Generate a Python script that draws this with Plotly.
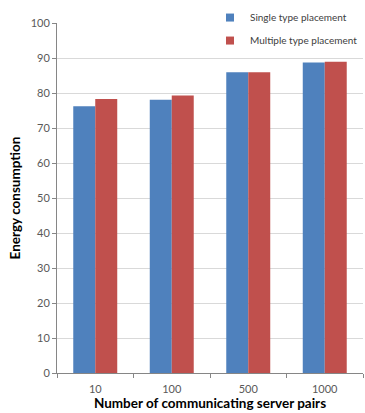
import plotly.graph_objects as go

categories = ["10", "100", "500", "1000"]
single_type = [76.2, 78.1, 85.9, 88.7]
multiple_type = [78.3, 79.3, 85.9, 88.9]
y_ticks = [0, 10, 20, 30, 40, 50, 60, 70, 80, 90, 100]
series_names = ["Single type placement", "Multiple type placement"]
series_colors = ["#4F81BD", "#C0504D"]

fig = go.Figure()
for name, vals, col in zip(series_names, [single_type, multiple_type], series_colors):
    fig.add_trace(go.Bar(x=categories, y=vals, name=name, showlegend=False,
                         marker=dict(color=col, line=dict(width=0))))
for i, (name, col) in enumerate(zip(series_names, series_colors)):
    fig.add_trace(go.Scatter(x=[None], y=[None], mode="markers", name=name,
                             legendgroup=str(i),
                             marker=dict(symbol="square", size=8, color=col)))

fig.update_layout(
    width=365, height=413,
    margin=dict(l=57, r=2, t=23, b=40, autoexpand=False),
    paper_bgcolor="white", plot_bgcolor="white",
    barmode="group", bargap=0.425, bargroupgap=0,
    font=dict(family="Lato, Liberation Sans, sans-serif", color="#595959", size=11),
    legend=dict(x=0.50, y=1.057, xanchor="left", yanchor="top",
                bgcolor="white",
                font=dict(family="Lato, sans-serif", size=10, color="#404040"),
                tracegroupgap=4, traceorder="grouped", itemwidth=30),
    xaxis=dict(
        automargin=False,
        showline=True, linecolor="#868686", linewidth=1,
        ticks="outside", tickson="boundaries", ticklen=4, tickcolor="#868686",
        tickfont=dict(size=11, color="#595959"), ticklabelstandoff=6,
        title=dict(text="<b>Number of communicating server pairs</b>",
                   font=dict(size=13.5, color="black"), standoff=4),
    ),
    yaxis=dict(
        automargin=False,
        range=[0, 100], tickvals=y_ticks,
        showline=True, linecolor="#868686", linewidth=1,
        ticks="outside", ticklen=4, tickcolor="#868686",
        showgrid=True, gridcolor="#D9D9D9", gridwidth=1,
        zeroline=False,
        tickfont=dict(size=11, color="#595959"),
        title=dict(text="<b>Energy consumption</b>",
                   font=dict(size=13.5, color="black"), standoff=6),
    ),
)

fig.write_html("out.html", config={"displayModeBar": False},
               post_script="document.body.style.margin='0';")
